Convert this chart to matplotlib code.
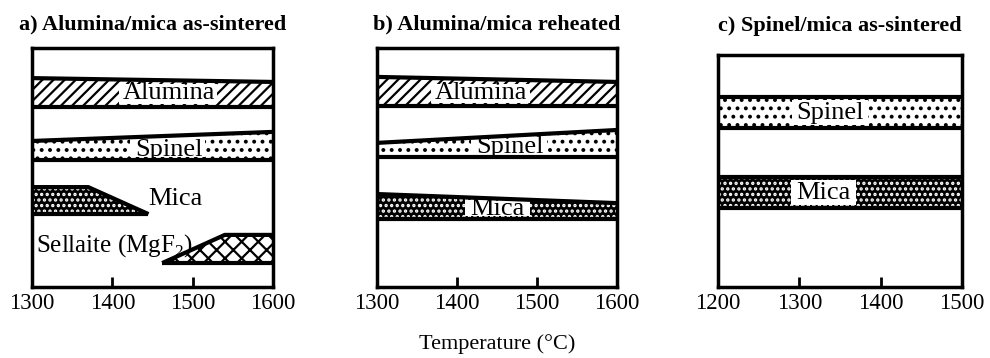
import matplotlib.pyplot as plt

plt.rcParams['font.family'] = 'serif'
plt.rcParams['font.serif'] = ['Liberation Serif', 'DejaVu Serif']
plt.rcParams['mathtext.fontset'] = 'custom'
plt.rcParams['mathtext.rm'] = 'Liberation Serif'
plt.rcParams['hatch.linewidth'] = 1.6

# panel titles and x ranges
titles = ['a) Alumina/mica as-sintered', 'b) Alumina/mica reheated', 'c) Spinel/mica as-sintered']
x_ranges = [(1300, 1600), (1300, 1600), (1200, 1500)]
x_ticks = [[1300, 1400, 1500, 1600], [1300, 1400, 1500, 1600], [1200, 1300, 1400, 1500]]

# phase bands: x points, top edge, bottom edge (relative height 0-100)
a_alumina_x = [1300, 1600]
a_alumina_top = [87.4, 85.8]
a_alumina_bot = [75.3, 75.3]
a_spinel_x = [1300, 1600]
a_spinel_top = [61.1, 64.9]
a_spinel_bot = [53.0, 53.0]
a_mica_x = [1300, 1370, 1445]
a_mica_top = [41.8, 41.8, 30.5]
a_mica_bot = [30.5, 30.5, 30.5]
a_sell_x = [1462, 1540, 1600]
a_sell_top = [10.0, 21.8, 21.8]
a_sell_bot = [10.0, 10.0, 10.0]

b_alumina_x = [1300, 1600]
b_alumina_top = [87.9, 85.8]
b_alumina_bot = [75.7, 75.7]
b_spinel_x = [1300, 1600]
b_spinel_top = [60.3, 65.7]
b_spinel_bot = [54.6, 54.6]
b_mica_x = [1300, 1600]
b_mica_top = [38.9, 35.1]
b_mica_bot = [28.5, 28.5]

c_spinel_x = [1200, 1500]
c_spinel_top = [81.9, 81.9]
c_spinel_bot = [68.5, 68.5]
c_mica_x = [1200, 1500]
c_mica_top = [47.4, 47.4]
c_mica_bot = [34.1, 34.1]


def band(ax, x, top, bot, kind):
    if kind == 'alumina':
        ax.fill_between(x, bot, top, facecolor='white', edgecolor='black', hatch='///', linewidth=0)
    elif kind == 'spinel':
        ax.fill_between(x, bot, top, facecolor='white', edgecolor='black', hatch='..', linewidth=0)
    elif kind == 'mica':
        ax.fill_between(x, bot, top, facecolor='black', linewidth=0)
        ax.fill_between(x, bot, top, facecolor='none', edgecolor='white', hatch='...', linewidth=0)
    elif kind == 'sellaite':
        ax.fill_between(x, bot, top, facecolor='white', edgecolor='black', hatch='xx', linewidth=0)
    ax.plot(x, top, color='black', lw=3, solid_capstyle='butt', zorder=3)
    ax.plot(x, bot, color='black', lw=3, solid_capstyle='butt', zorder=3)


def label(ax, x, y, s, gap=None, bot=None, top=None, size=19):
    # gap: x-span cleared of hatching behind the label
    if gap is not None:
        ax.fill_between(gap, [bot, bot], [top, top], facecolor='white', linewidth=0, zorder=2)
    ax.text(x, y, s, ha='center', va='center', fontsize=size, color='black', zorder=4)


fig = plt.figure(figsize=(9.9, 3.58), dpi=100)
positions = [
    [32 / 990, 1 - 287 / 358, 241 / 990, 239 / 358],
    [377 / 990, 1 - 287 / 358, 240 / 990, 239 / 358],
    [718 / 990, 1 - 287 / 358, 244 / 990, 232 / 358],
]
title_pads = [13, 13, 17]
axes = [fig.add_axes(p) for p in positions]

for ax, title, xr, xt, tp in zip(axes, titles, x_ranges, x_ticks, title_pads):
    ax.set_xlim(*xr)
    ax.set_ylim(0, 100)
    ax.set_xticks(xt)
    ax.set_xticklabels([str(t) for t in xt], fontsize=16.5)
    ax.set_yticks([])
    ax.tick_params(axis='x', direction='in', length=7, width=2, pad=4)
    for tk in [ax.xaxis.get_major_ticks()[0], ax.xaxis.get_major_ticks()[-1]]:
        tk.tick1line.set_visible(False)
    for sp in ax.spines.values():
        sp.set_linewidth(2.5)
        sp.set_zorder(5)
    ax.set_title(title, fontsize=16, fontweight='bold', pad=tp)

ax = axes[0]
band(ax, a_alumina_x, a_alumina_top, a_alumina_bot, 'alumina')
band(ax, a_spinel_x, a_spinel_top, a_spinel_bot, 'spinel')
band(ax, a_mica_x, a_mica_top, a_mica_bot, 'mica')
band(ax, a_sell_x, a_sell_top, a_sell_bot, 'sellaite')
label(ax, 1470, 81, 'Alumina', (1408, 1530), 76.5, 85)
label(ax, 1470, 57.5, 'Spinel', (1422, 1515), 54.3, 62)
label(ax, 1478, 37, 'Mica')
label(ax, 1403, 17.5, 'Sellaite (MgF$_2$)', size=18)

ax = axes[1]
band(ax, b_alumina_x, b_alumina_top, b_alumina_bot, 'alumina')
band(ax, b_spinel_x, b_spinel_top, b_spinel_bot, 'spinel')
band(ax, b_mica_x, b_mica_top, b_mica_bot, 'mica')
label(ax, 1430, 81, 'Alumina', (1368, 1491), 76.9, 85)
label(ax, 1466, 58.5, 'Spinel', (1418, 1513), 55.8, 62)
label(ax, 1451, 32.5, 'Mica', (1410, 1491), 29.5, 36.5)
ax.set_xlabel('Temperature (°C)', fontsize=16, labelpad=15)

ax = axes[2]
band(ax, c_spinel_x, c_spinel_top, c_spinel_bot, 'spinel')
band(ax, c_mica_x, c_mica_top, c_mica_bot, 'mica')
label(ax, 1338, 75.2, 'Spinel', (1291, 1385), 69.7, 80.7)
label(ax, 1330, 40.7, 'Mica', (1290, 1370), 35.3, 46.2)

fig.savefig('out.png', dpi=100)
